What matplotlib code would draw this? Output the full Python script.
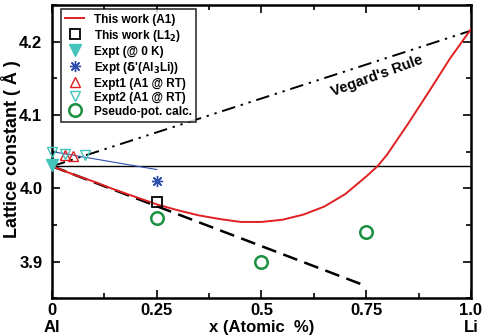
import matplotlib
matplotlib.use("Agg")
import matplotlib.pyplot as plt
from matplotlib.ticker import MultipleLocator

plt.rcParams['font.family'] = ['Liberation Sans', 'DejaVu Sans']
plt.rcParams['font.weight'] = 'bold'
plt.rcParams['mathtext.default'] = 'bf'

# A1 curve (this work)
a1_x = [0.0, 0.05, 0.1, 0.15, 0.2, 0.25, 0.3, 0.35, 0.4, 0.45, 0.5, 0.55, 0.6, 0.65,
        0.7, 0.75, 0.777, 0.8, 0.85, 0.9, 0.95, 1.0]
a1_y = [4.030, 4.019, 4.009, 3.998, 3.988, 3.978, 3.970, 3.963, 3.958, 3.954, 3.954,
        3.957, 3.964, 3.975, 3.992, 4.016, 4.030, 4.046, 4.088, 4.132, 4.177, 4.217]
# L1_2
l12_x = [0.25]
l12_y = [3.981]
# Expt @ 0K
e0_x = [0.0]
e0_y = [4.032]
# Expt delta'
ed_x = [0.25]
ed_y = [4.010]
# Expt1 (A1 @ RT)
e1_x = [0.03, 0.05]
e1_y = [4.046, 4.044]
# Expt2 (A1 @ RT)
e2_x = [0.0, 0.03, 0.08]
e2_y = [4.050, 4.047, 4.045]
# Pseudo-pot
pp_x = [0.25, 0.5, 0.75]
pp_y = [3.960, 3.900, 3.940]
# Reference lines
vegard_x = [0.0, 1.0]
vegard_y = [4.030, 4.215]
dash_x = [0.0, 0.743]
dash_y = [4.030, 3.868]
blue_x = [0.0, 0.25]
blue_y = [4.050, 4.0255]
hline_y = 4.03

xticks = [0, 0.25, 0.5, 0.75, 1.0]
xticklabels = ['0', '0.25', '0.5', '0.75', '1.0']
yticks = [3.9, 4.0, 4.1, 4.2]
yticklabels = ['3.9', '4.0', '4.1', '4.2']

fig = plt.figure(figsize=(4.84, 3.35), dpi=100)
ax = fig.add_axes([0.1074, 0.110, 0.8656, 0.875])

teal = '#45c4bc'
ax.axhline(hline_y, color='black', lw=1.0, zorder=1)
ax.plot(vegard_x, vegard_y, color='black', lw=1.4,
        linestyle=(0, (7, 3, 1.2, 3, 1.2, 3)), zorder=2)
ax.plot(dash_x, dash_y, color='black', lw=1.8, linestyle=(0, (6, 3)), zorder=2)
ax.plot(blue_x, blue_y, color='#3050b0', lw=0.8, zorder=2)

ax.plot(a1_x, a1_y, color='#e02020', lw=1.4, label='This work (A1)', zorder=3)
ax.plot(l12_x, l12_y, 's', mfc='none', mec='black', mew=1.3, ms=7,
        label='This work (L1$_2$)', zorder=4)
ax.plot(e0_x, e0_y, 'v', color=teal, ms=8, label='Expt (@ 0 K)', zorder=4, clip_on=False)
ax.plot(ed_x, ed_y, marker=(8, 2, 0), ls='none', color='#3050b0', mew=1.0, ms=8,
        label="Expt ($\\delta$'(Al$_3$Li))", zorder=4)
ax.plot(e1_x, e1_y, '^', mfc='none', mec='#e02020', mew=1.0, ms=7,
        ls='none', label='Expt1 (A1 @ RT)', zorder=4)
ax.plot(e2_x, e2_y, 'v', mfc='none', mec=teal, mew=1.0, ms=7, ls='none',
        label='Expt2 (A1 @ RT)', zorder=4, clip_on=False)
ax.plot(pp_x, pp_y, 'o', mfc='none', mec='#1a9040', mew=1.8, ms=9, ls='none',
        label='Pseudo-pot. calc.', zorder=4)

ax.set_xlim(0, 1.0)
ax.set_ylim(3.85, 4.25)
ax.set_xticks(xticks)
ax.set_xticklabels(xticklabels)
ax.set_yticks(yticks)
ax.set_yticklabels(yticklabels)
ax.xaxis.set_minor_locator(MultipleLocator(0.125))
ax.yaxis.set_minor_locator(MultipleLocator(0.05))
ax.tick_params(which='both', direction='in', top=True, right=True,
               labelsize=12, width=1.2)
ax.tick_params(axis='x', which='major', pad=3.5)
ax.tick_params(axis='y', which='major', pad=7)
ax.tick_params(which='major', length=6)
ax.tick_params(which='minor', length=3.5)
for lab in ax.get_xticklabels() + ax.get_yticklabels():
    lab.set_fontweight('bold')
for s in ax.spines.values():
    s.set_linewidth(1.8)

ax.set_ylabel('Lattice constant ( Å )', fontsize=13, fontweight='bold')
ax.yaxis.set_label_coords(-0.098, 0.51)
ax.yaxis.label.set_va('center')
ax.set_xlabel('x (Atomic  %)', fontsize=12, fontweight='bold')
ax.xaxis.set_label_coords(0.5, -0.1)
ax.xaxis.label.set_va('center')
ax.text(0.0, -0.1, 'Al', transform=ax.transAxes, ha='center', va='center',
        fontsize=12, fontweight='bold')
ax.text(1.0, -0.1, 'Li', transform=ax.transAxes, ha='center', va='center',
        fontsize=12, fontweight='bold')
ax.text(0.775, 4.153, "Vegard's Rule", rotation=20, ha='center', va='center',
        fontsize=10.5, fontweight='bold')

handles, labels = ax.get_legend_handles_labels()
leg = ax.legend(handles, labels, loc='upper left', bbox_to_anchor=(0.022, 0.985),
                borderaxespad=0, frameon=True, fancybox=False, edgecolor='black',
                handlelength=1.6, handletextpad=0.8, borderpad=0.35,
                labelspacing=0.17, prop={'weight': 'bold', 'size': 8.5})
leg.get_frame().set_linewidth(1.2)

fig.savefig('out.png', dpi=100)
